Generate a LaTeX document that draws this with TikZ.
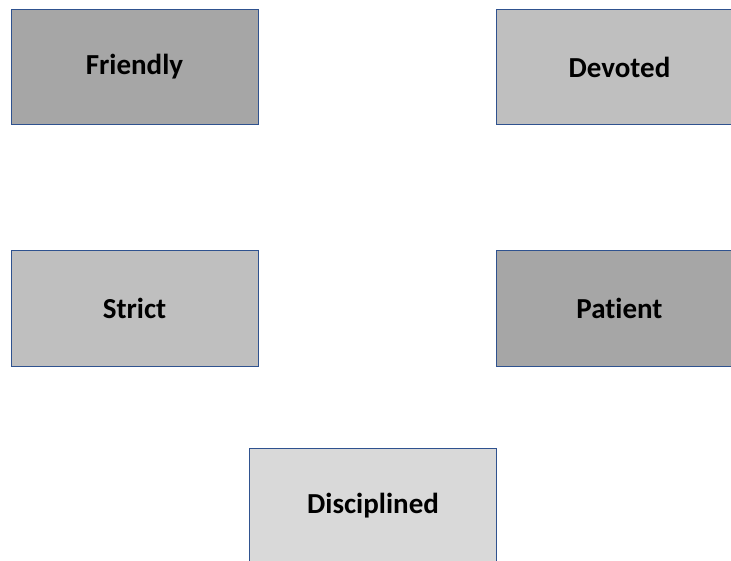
\documentclass[tikz,border=0pt]{standalone}
\usepackage{fontspec}
\setmainfont{Carlito}[Ligatures=NoCommon]
\usepackage{tikz}
\definecolor{edge1}{RGB}{47,82,143}
\definecolor{gray1}{RGB}{166,166,166}
\definecolor{gray2}{RGB}{191,191,191}
\definecolor{gray3}{RGB}{217,217,217}
\tikzset{trait/.style={rectangle, draw=edge1, line width=1pt, minimum width=247pt, minimum height=115pt, inner sep=0pt, font=\fontsize{29}{34}\selectfont\bfseries}}

\begin{document}
\begin{tikzpicture}[x=1pt,y=-1pt]
\useasboundingbox (0,0) rectangle (731,561);
\clip (0,0) rectangle (731,561);
\node[trait, fill=gray1] (friendly) at (134.5,67) {Friendly};
\node[trait, fill=gray2] (devoted) at (619.5,67) {Devoted};
\node[trait, fill=gray2] (strict) at (134.5,308.5) {Strict};
\node[trait, fill=gray1] (patient) at (619.5,308.5) {Patient};
\node[trait, fill=gray3] (disciplined) at (373,505.5) {Disciplined};
\end{tikzpicture}
\end{document}
